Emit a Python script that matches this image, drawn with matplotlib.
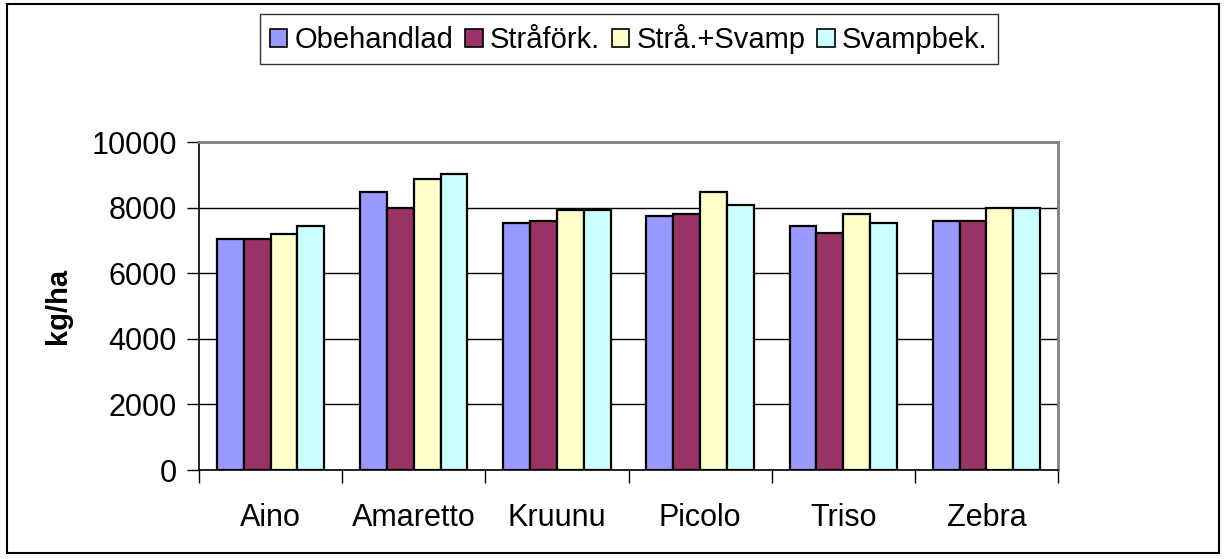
import numpy as np
import matplotlib.pyplot as plt
from matplotlib.patches import Rectangle, Patch

plt.rcParams['font.family'] = ['Liberation Sans', 'DejaVu Sans']

# sorter och behandlingar
sorter = ['Aino', 'Amaretto', 'Kruunu', 'Picolo', 'Triso', 'Zebra']
behandlingar = ['Obehandlad', 'Stråförk.', 'Strå.+Svamp', 'Svampbek.']

obehandlad = [7050, 8470, 7520, 7730, 7440, 7590]
strafork = [7050, 7990, 7590, 7800, 7240, 7590]
stra_svamp = [7180, 8880, 7930, 8480, 7790, 7990]
svampbek = [7450, 9030, 7930, 8070, 7520, 7990]

serier = [obehandlad, strafork, stra_svamp, svampbek]
farger = ['#9999FF', '#993366', '#FFFFCC', '#CCFFFF']

fig = plt.figure(figsize=(12.28, 5.59), dpi=100)
ax = fig.add_axes([199 / 1228, 89 / 559, 859 / 1228, 328 / 559])

x = np.arange(len(sorter))
w = 0.1875
for i, (vals, col) in enumerate(zip(serier, farger)):
    ax.bar(x + (i - 1.5) * w, vals, width=w, color=col, edgecolor='black',
           linewidth=1.6, zorder=3)

ax.set_xlim(-0.5, len(sorter) - 0.5)
ax.set_ylim(0, 10000)
ax.set_yticks(np.arange(0, 10001, 2000))
ax.yaxis.grid(True, color='black', linewidth=1, zorder=0)
ax.tick_params(axis='y', labelsize=22, length=9, width=1, direction='out', pad=7)

# kategorietiketter mellan tickmarkeringarna
ax.set_xticks(np.arange(-0.5, len(sorter)), minor=False)
ax.set_xticklabels([])
ax.set_xticks(x, minor=True)
ax.set_xticklabels(sorter, minor=True)
ax.tick_params(axis='x', which='major', length=9, width=1)
ax.tick_params(axis='x', which='minor', length=0, labelsize=22, pad=24)

ax.set_ylabel('kg/ha', fontsize=21, fontweight='bold', labelpad=14)

for s in ['left', 'bottom']:
    ax.spines[s].set_color('black')
    ax.spines[s].set_linewidth(1.2)
for s in ['top', 'right']:
    ax.spines[s].set_color('#808080')
    ax.spines[s].set_linewidth(2)

handles = [Patch(facecolor=c, edgecolor='black', linewidth=1.2) for c in farger]
leg = fig.legend(handles, behandlingar, loc='center', bbox_to_anchor=(0.512, 0.930),
                 ncol=4, fontsize=21, frameon=True, fancybox=False,
                 handlelength=0.6, handleheight=0.6, handletextpad=0.25,
                 columnspacing=0.4, borderpad=0.35, edgecolor='black')
leg.get_frame().set_linewidth(1)

fig.patches.append(Rectangle((7 / 1228, 6 / 559), 1212 / 1228, 549 / 559,
                             transform=fig.transFigure, fill=False,
                             edgecolor='black', linewidth=1.5))

fig.savefig('out.png', dpi=100)
